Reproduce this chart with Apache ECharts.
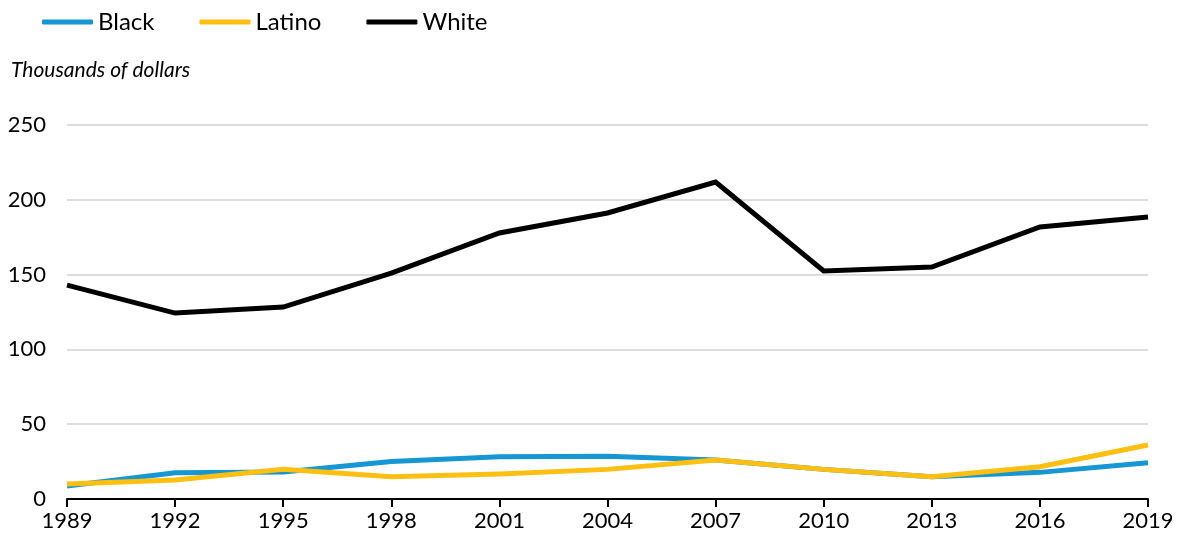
<!DOCTYPE html>
<html>
<head>
<meta charset="utf-8">
<script src="https://cdn.jsdelivr.net/npm/echarts@6/dist/echarts.min.js"></script>
<style>
html,body{margin:0;padding:0;background:#fff;}
#c{width:1182px;height:542px;}
</style>
</head>
<body>
<div id="c"></div>
<script>
const years = ['1989','1992','1995','1998','2001','2004','2007','2010','2013','2016','2019'];
const black = [8.7, 17.6, 18.0, 25.0, 28.3, 28.5, 26.0, 19.8, 14.9, 17.8, 24.3];
const latino = [10.0, 12.7, 19.8, 14.9, 16.7, 19.8, 26.0, 19.8, 14.9, 21.6, 36.1];
const white = [143.0, 124.3, 128.3, 151.0, 177.8, 191.2, 211.9, 152.4, 155.1, 181.8, 188.5];
const yTicks = [0, 50, 100, 150, 200, 250];

const FONT = 'Lato, "Open Sans", sans-serif';
const chart = echarts.init(document.getElementById('c'), null, {renderer: 'canvas'});
const mk = (name, data, color) => ({
  name, type: 'line', data, symbol: 'none', smooth: false,
  lineStyle: {color, width: 5, cap: 'butt', join: 'miter'},
  itemStyle: {color}
});
chart.setOption({
  animation: false,
  textStyle: {fontFamily: FONT},
  legend: {
    left: 37, top: 5,
    itemWidth: 51, itemHeight: 5, itemGap: 45,
    icon: 'roundRect',
    textStyle: {fontSize: 24, color: '#000', fontFamily: FONT},
    data: ['Black','Latino','White']
  },
  graphic: [{
    type: 'text', left: 11, top: 60,
    style: {text: 'Thousands of dollars', font: 'italic 21px ' + FONT, fill: '#000'}
  }],
  grid: {left: 67, right: 34, top: 125, bottom: 43, containLabel: false},
  xAxis: {
    type: 'category', data: years, boundaryGap: false,
    axisLine: {lineStyle: {color: '#000', width: 2}},
    axisTick: {show: true, length: 8, lineStyle: {color: '#000', width: 2}},
    axisLabel: {fontSize: 22, color: '#000', margin: 11, fontFamily: FONT},
    splitLine: {show: false}
  },
  yAxis: {
    type: 'value', min: yTicks[0], max: yTicks[yTicks.length-1], interval: 50,
    axisLine: {show: false}, axisTick: {show: false},
    axisLabel: {fontSize: 22, color: '#000', margin: 21, fontFamily: FONT},
    splitLine: {lineStyle: {color: '#dedddd', width: 2}}
  },
  series: [
    mk('Black', black, '#1696d2'),
    mk('Latino', latino, '#fdbf11'),
    mk('White', white, '#000000')
  ]
});
</script>
</body>
</html>
